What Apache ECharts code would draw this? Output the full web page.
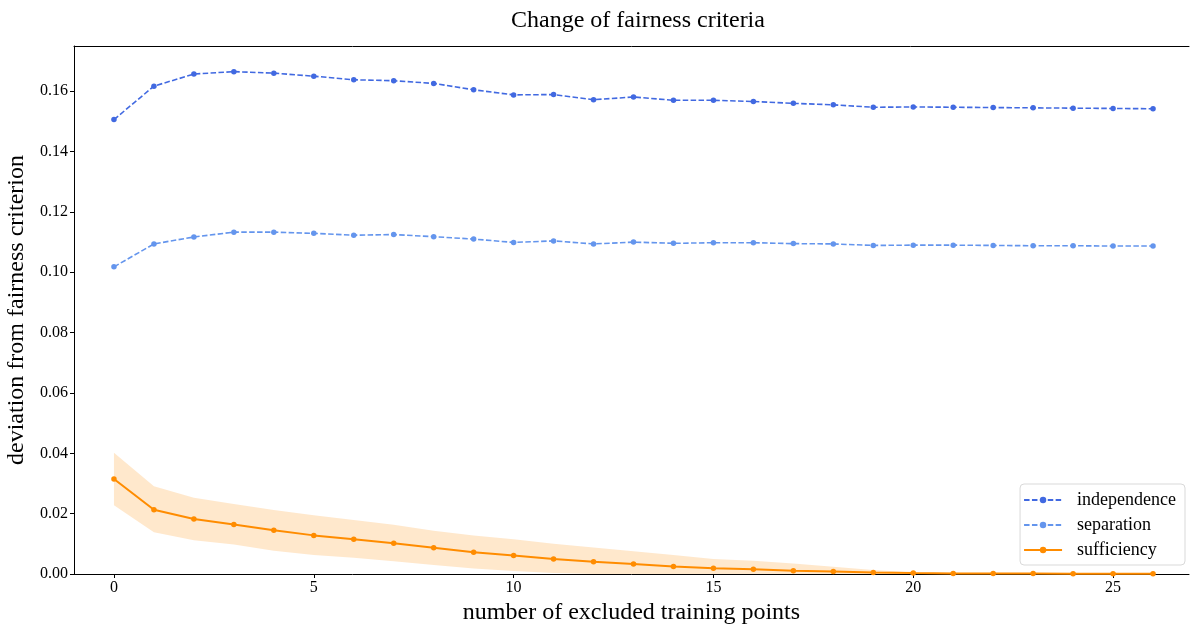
<!DOCTYPE html>
<html>
<head>
<meta charset="utf-8">
<script src="https://cdn.jsdelivr.net/npm/echarts@6/dist/echarts.min.js"></script>
<style>html,body{margin:0;padding:0;background:#fff}#c{width:1190px;height:626px}</style>
</head>
<body>
<div id="c"></div>
<script>
const xValues = [0,1,2,3,4,5,6,7,8,9,10,11,12,13,14,15,16,17,18,19,20,21,22,23,24,25,26];
const independence = [0.1506,0.1617,0.1657,0.1665,0.1660,0.1650,0.1638,0.1635,0.1626,0.1605,0.1588,0.1589,0.1572,0.1581,0.1570,0.1570,0.1566,0.1560,0.1555,0.1547,0.1548,0.1547,0.1546,0.1545,0.1544,0.1543,0.1542];
const separation = [0.1018,0.1094,0.1117,0.1133,0.1133,0.1129,0.1123,0.1125,0.1118,0.1110,0.1099,0.1104,0.1094,0.1100,0.1096,0.1098,0.1098,0.1095,0.1094,0.1089,0.1090,0.1090,0.1089,0.1088,0.1088,0.1087,0.1087];
const sufficiency = [0.0315,0.0213,0.0182,0.0164,0.0145,0.0128,0.0115,0.0102,0.0087,0.0072,0.0061,0.0050,0.0041,0.0033,0.0025,0.0019,0.0016,0.0011,0.0008,0.0005,0.0003,0.0002,0.0002,0.0002,0.0001,0.0001,0.0001];
const sufficiencyUpper = [0.0402,0.0291,0.0253,0.0232,0.0212,0.0195,0.0179,0.0163,0.0143,0.0128,0.0115,0.0100,0.0088,0.0075,0.0063,0.0050,0.0044,0.0035,0.0024,0.0013,0.0005,0.0004,0.0004,0.0003,0.0003,0.0003,0.0003];
const sufficiencyLower = [0.0228,0.0138,0.0112,0.0098,0.0077,0.0063,0.0054,0.0042,0.0030,0.0018,0.0010,0.0003,0,0,0,0,0,0,0,0,0,0,0,0,0,0,0];
const xTicks = [0,5,10,15,20,25];
const yTicks = [0,0.02,0.04,0.06,0.08,0.10,0.12,0.14,0.16];

const FONT = '"Liberation Serif", "DejaVu Serif", serif';
const chart = echarts.init(document.getElementById('c'), null, {renderer:'canvas'});

const pairs = arr => xValues.map((x,i)=>[x, arr[i]]);
const bandData = xValues.map((x,i)=>[x, sufficiencyLower[i], sufficiencyUpper[i]]);

chart.setOption({
  animation: false,
  backgroundColor: '#fff',
  title: {
    text: 'Change of fairness criteria',
    left: 633, top: 4, textAlign: 'center',
    textStyle: {fontFamily: FONT, fontSize: 24, fontWeight: 'normal', color: '#000'}
  },
  grid: {left: 74, right: 1, top: 46, bottom: 52, containLabel: false, outerBoundsMode: 'none'},
  legend: {
    orient: 'vertical', right: 5, bottom: 61,
    data: ['independence','separation','sufficiency'],
    itemWidth: 38, itemHeight: 8, itemGap: 5,
    padding: [6, 9, 5, 3],
    borderColor: '#d9d9d9', borderWidth: 1, borderRadius: 4,
    backgroundColor: 'rgba(255,255,255,0.85)',
    textStyle: {fontFamily: FONT, fontSize: 18, color: '#000', lineHeight: 20, padding: [0,0,0,10]}
  },
  xAxis: [{
    type: 'value', min: -1, max: 26.9,
    name: 'number of excluded training points', nameLocation: 'middle', nameGap: 24,
    nameTextStyle: {fontFamily: FONT, fontSize: 24, color: '#000'},
    axisLine: {show: true, onZero: false, lineStyle: {color: '#000', width: 1}},
    axisTick: {show: true, length: 4, lineStyle: {color: '#000'}, customValues: xTicks},
    axisLabel: {fontFamily: FONT, fontSize: 16, color: '#000', margin: 6, customValues: xTicks},
    splitLine: {show: false}
  }, {
    type: 'value', position: 'top', min: -1, max: 26.9,
    axisLine: {show: true, onZero: false, lineStyle: {color: '#000', width: 1}},
    axisTick: {show: false}, axisLabel: {show: false}, splitLine: {show: false}
  }],
  yAxis: {
    type: 'value', min: 0, max: 0.175,
    name: 'deviation from fairness criterion', nameLocation: 'middle', nameGap: 42, nameRotate: 90,
    nameTextStyle: {fontFamily: FONT, fontSize: 24, color: '#000'},
    axisLine: {show: true, onZero: false, lineStyle: {color: '#000', width: 1}},
    axisTick: {show: true, length: 4, lineStyle: {color: '#000'}, customValues: yTicks},
    axisLabel: {fontFamily: FONT, fontSize: 16, color: '#000', margin: 6, customValues: yTicks,
      formatter: v => v.toFixed(2)},
    splitLine: {show: false}
  },
  series: [
    {
      name: 'band', type: 'custom', silent: true, z: 1,
      data: bandData,
      encode: {x: 0, y: [1, 2]},
      renderItem: function(params, api) {
        if (params.dataIndex !== 0) return null;
        const top = [], bottom = [];
        for (let i = 0; i < bandData.length; i++) {
          top.push(api.coord([bandData[i][0], bandData[i][2]]));
          bottom.unshift(api.coord([bandData[i][0], bandData[i][1]]));
        }
        return {type: 'polygon', shape: {points: top.concat(bottom)},
          style: {fill: 'rgba(255,140,0,0.2)'}};
      }
    },
    {
      name: 'independence', type: 'line', data: pairs(independence), z: 3,
      symbol: 'circle', symbolSize: 5.5, showSymbol: true,
      itemStyle: {color: '#4169E1'},
      lineStyle: {color: '#4169E1', width: 1.6, type: [5.5, 2.4]}
    },
    {
      name: 'separation', type: 'line', data: pairs(separation), z: 3,
      symbol: 'circle', symbolSize: 5.5, showSymbol: true,
      itemStyle: {color: '#6495ED'},
      lineStyle: {color: '#6495ED', width: 1.6, type: [5.5, 2.4]}
    },
    {
      name: 'sufficiency', type: 'line', data: pairs(sufficiency), z: 3,
      symbol: 'circle', symbolSize: 5.5, showSymbol: true,
      itemStyle: {color: '#FF8C00'},
      lineStyle: {color: '#FF8C00', width: 2}
    }
  ]
});
</script>
</body>
</html>
